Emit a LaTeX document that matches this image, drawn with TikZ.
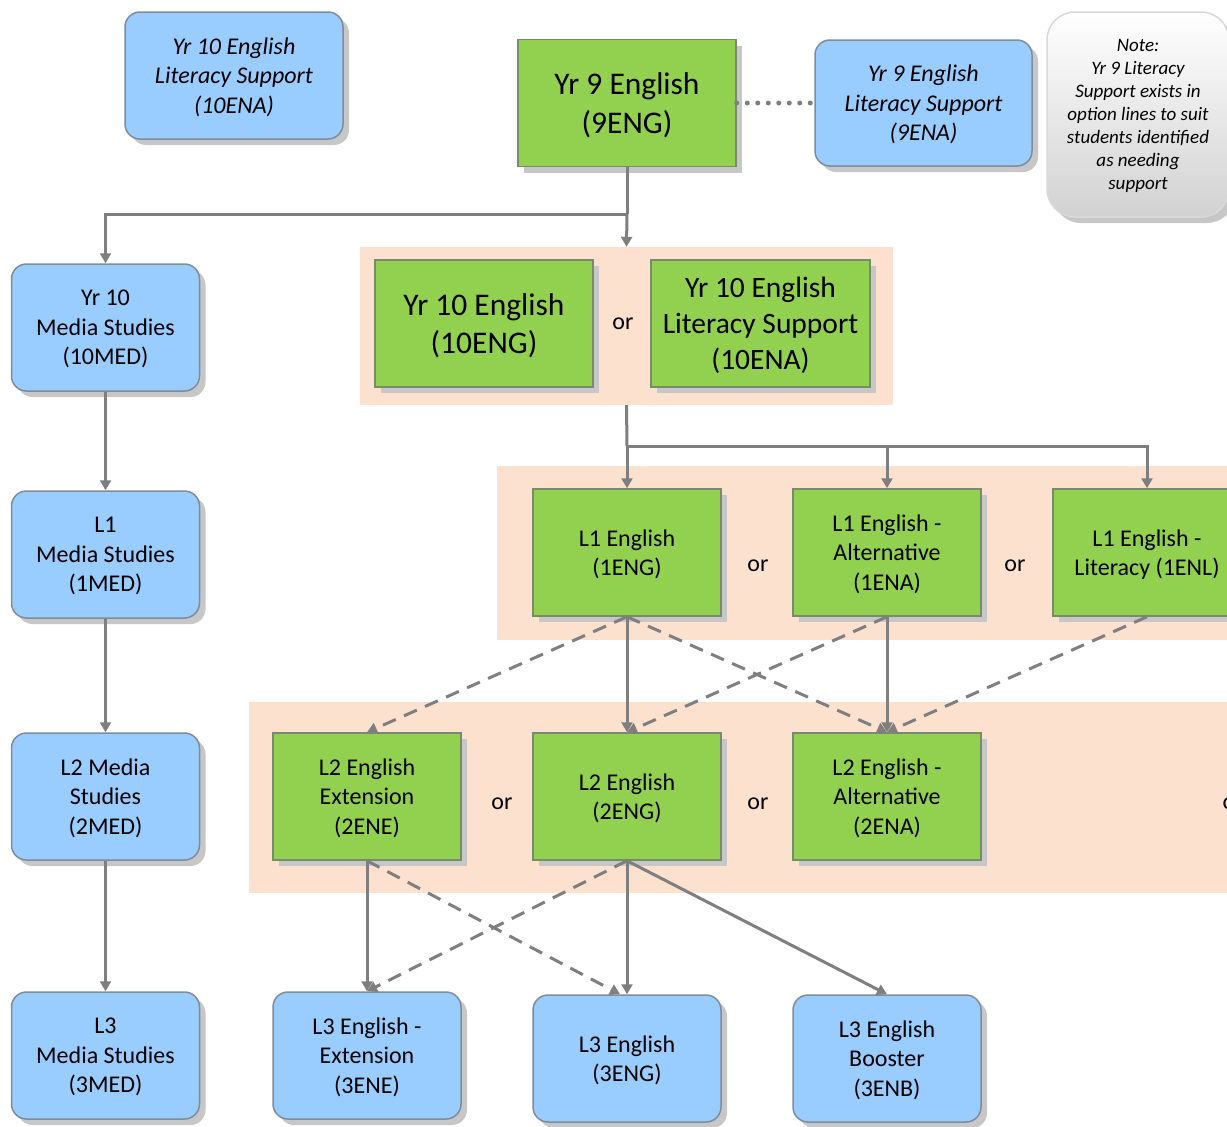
\documentclass[tikz,border=0pt]{standalone}
\usepackage{fontspec}
\setmainfont{Carlito}
\usetikzlibrary{arrows.meta,shadows}
\definecolor{gfill}{HTML}{92D050}
\definecolor{gline}{HTML}{7A8A6C}
\definecolor{bfill}{HTML}{99CCFF}
\definecolor{bline}{HTML}{7F8C9C}
\definecolor{peach}{HTML}{FDE1CF}
\definecolor{conn}{HTML}{7F7F7F}
\begin{document}
\begin{tikzpicture}[x=1pt,y=-1pt,
  shd/.style={drop shadow={shadow xshift=6pt,shadow yshift=-6pt,fill=black!22,opacity=1}},
  base/.style={shd,line width=1.5pt,align=center,inner sep=0pt,text=black,text depth=0pt},
  gbox/.style={base,rectangle,draw=gline,fill=gfill},
  bbox/.style={base,rectangle,rounded corners=15pt,draw=bline,fill=bfill},
  big/.style={font=\fontsize{31.5}{38.5}\selectfont},
  med/.style={font=\fontsize{24}{29.5}\selectfont},
  medit/.style={font=\fontsize{24}{29.5}\selectfont\itshape},
  wide/.style={minimum width=218pt,minimum height=127pt},
  std/.style={minimum width=188pt,minimum height=127pt},
  region/.style={fill=peach,draw=none,inner sep=0pt},
  ortext/.style={font=\fontsize{24}{28}\selectfont,inner sep=0pt},
  conline/.style={draw=conn,line width=3pt},
  arr/.style={conline,-{Triangle[width=11pt,length=10pt]}},
  darr/.style={arr,dash pattern=on 14pt off 9pt},
]
\useasboundingbox (0,0) rectangle (1227,1127);
\clip (0,0) rectangle (1227,1127);

% regions
\node[region,minimum width=533pt,minimum height=158pt] (bg1) at (626.5,326) {};
\node[region,minimum width=763pt,minimum height=174pt] (bg2) at (878.5,553) {};
\node[region,minimum width=1011pt,minimum height=191pt] (bg3) at (754.5,797.5) {};

% top row
\node[bbox,medit,wide] (t10ena) at (234,75.5) {Yr 10 English\\Literacy Support\\(10ENA)};
\node[gbox,big,wide] (n9eng) at (627,103) {Yr 9 English\\(9ENG)};
\node[bbox,medit,minimum width=217pt,minimum height=126pt] (n9ena) at (923.5,103) {Yr 9 English\\Literacy Support\\(9ENA)};
\node[shd,rounded corners=28pt,draw=black!15,line width=1.5pt,top color=white,bottom color=black!18,
      minimum width=182pt,minimum height=205pt,align=center,inner sep=0pt,text depth=0pt,
      font=\fontsize{19}{23}\selectfont\itshape] (note) at (1138,114.5)
  {Note:\\Yr 9 Literacy\\Support exists in\\option lines to suit\\students identified\\as needing\\support};

% year 10
\node[gbox,big,wide] (n10eng) at (484,323.5) {Yr 10 English\\(10ENG)};
\node[ortext] (or1) at (623,324) {or};
\node[gbox,font=\fontsize{29.5}{36}\selectfont,minimum width=219pt,minimum height=127pt] (n10ena) at (760.5,323.5) {Yr 10 English\\Literacy Support\\(10ENA)};
\node[bbox,med,std] (n10med) at (105.5,327.5) {Yr 10\\Media Studies\\(10MED)};

% level 1
\node[gbox,med,std] (n1eng) at (627,552.5) {L1 English\\(1ENG)};
\node[ortext] (or2) at (758,566) {or};
\node[gbox,med,std] (n1ena) at (887,552.5) {L1 English -\\Alternative\\(1ENA)};
\node[ortext] (or3) at (1015,566) {or};
\node[gbox,med,std] (n1enl) at (1147,552.5) {L1 English -\\Literacy (1ENL)};
\node[bbox,med,std] (n1med) at (105.5,554.5) {L1\\Media Studies\\(1MED)};

% level 2
\node[gbox,med,std] (n2ene) at (367,796.5) {L2 English\\Extension\\(2ENE)};
\node[ortext] (or4) at (502,804) {or};
\node[gbox,med,std] (n2eng) at (627,796.5) {L2 English\\(2ENG)};
\node[ortext] (or5) at (758,804) {or};
\node[gbox,med,std] (n2ena) at (887,796.5) {L2 English -\\Alternative\\(2ENA)};
\node[ortext] (or6) at (1233,804) {or};
\node[bbox,med,std] (n2med) at (105.5,796.5) {L2 Media\\Studies\\(2MED)};

% level 3
\node[bbox,med,std] (n3med) at (105.5,1055.5) {L3\\Media Studies\\(3MED)};
\node[bbox,med,std] (n3ene) at (367,1055.5) {L3 English -\\Extension\\(3ENE)};
\node[bbox,med,std] (n3eng) at (627,1058.5) {L3 English\\(3ENG)};
\node[bbox,med,std] (n3enb) at (887,1058.5) {L3 English\\Booster\\(3ENB)};

% connectors
\draw[conn,line width=5pt,line cap=round,dash pattern=on 0pt off 10.5pt] (n9eng.east) -- (n9ena.west);
\draw[conline] (n9eng.south) -- (627,214) coordinate (j1);
\draw[arr] (j1) -| (n10med.north);
\draw[arr] (j1) -- (bg1.north);
\draw[conline] (bg1.south) -- (627,446) coordinate (j2);
\draw[arr] (j2) -- (n1eng.north);
\draw[arr] (j2) -| (n1ena.north);
\draw[arr] (j2) -| (n1enl.north);

\draw[arr] (n10med.south) -- (n1med.north);
\draw[arr] (n1med.south) -- (n2med.north);
\draw[arr] (n2med.south) -- (n3med.north);

\draw[darr] (n1eng.south) -- (n2ene.north);
\draw[darr] (n1eng.south) -- (n2ena.north);
\draw[darr] (n1ena.south) -- (n2eng.north);
\draw[darr] (n1enl.south) -- (n2ena.north);
\draw[arr] (n1eng.south) -- (n2eng.north);
\draw[arr] (n1ena.south) -- (n2ena.north);

\draw[darr] (n2ene.south) -- ([xshift=-7pt]n3eng.north);
\draw[darr] (n2eng.south) -- (n3ene.north);
\draw[arr] (n2ene.south) -- (n3ene.north);
\draw[arr] (n2eng.south) -- (n3eng.north);
\draw[arr] (n2eng.south) -- (n3enb.north);
\end{tikzpicture}
\end{document}
